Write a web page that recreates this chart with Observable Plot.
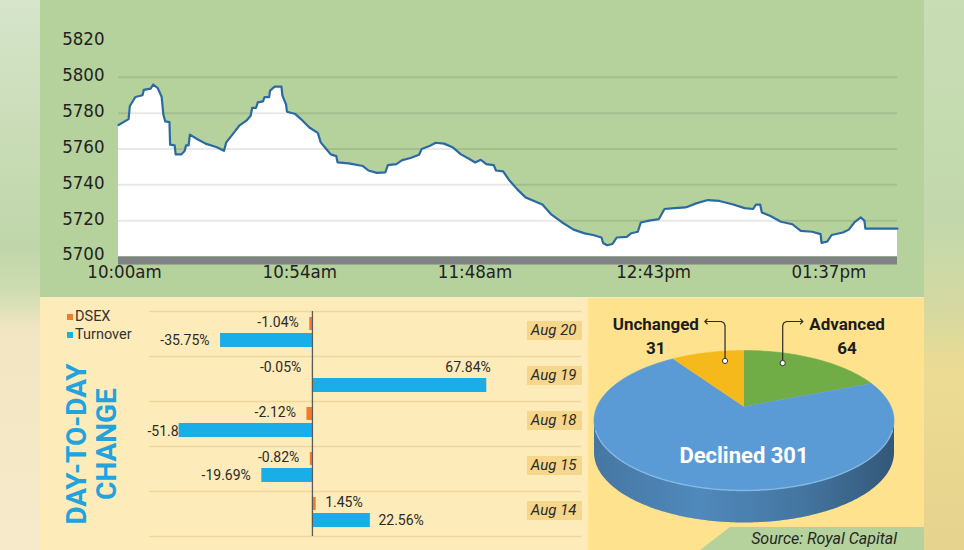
<!DOCTYPE html>
<html><head><meta charset="utf-8">
<script src="https://cdn.jsdelivr.net/npm/d3@7"></script>
<script src="https://cdn.jsdelivr.net/npm/@observablehq/plot@0.6"></script>
<style>
html,body{margin:0;padding:0;width:964px;height:550px;overflow:hidden;background:#e9e3c8;}
#root{position:relative;width:964px;height:550px;font-family:Roboto,"Noto Sans",sans-serif;}
.blurL{position:absolute;left:0;top:0;width:40px;height:550px;background:linear-gradient(180deg,#d6e5cb 0%,#c9dcb6 25%,#c0d6aa 45%,#cfdcb2 53%,#f2e6c2 60%,#f7eacb 100%);}
.blurR{position:absolute;left:924px;top:0;width:40px;height:550px;background:linear-gradient(180deg,#c8ddb4 0%,#c2d8ac 40%,#d4d9a2 55%,#ecdb92 68%,#e6d38e 100%);}
#top{position:absolute;left:40px;top:0;width:884px;height:297px;background:#b5d19c;}
#bars{position:absolute;left:40px;top:297px;width:548px;height:253px;background:#fdebb9;border-top:1px solid #eef0c4;box-sizing:border-box;}
#pie{position:absolute;left:588px;top:297px;width:336px;height:253px;background:#fee28e;border-top:1px solid #eef0c4;box-sizing:border-box;}
#bars svg,#pie svg,#top svg{position:absolute;left:0;top:0;}
.leg{position:absolute;left:27px;font-size:14.5px;color:#333;line-height:16px;}
.leg i{display:inline-block;width:6px;height:6px;margin-right:2px;vertical-align:1px;}
#title{position:absolute;left:51px;top:146px;width:180px;transform:translate(-50%,-50%) rotate(-90deg);text-align:center;font-weight:700;font-size:28px;line-height:29.5px;color:#20a3de;white-space:nowrap;}
#source{position:absolute;left:700px;top:527px;width:224px;height:23px;background:#b5d19c;clip-path:polygon(30px 0,100% 0,100% 100%,0 100%);font-style:italic;font-size:16px;color:#262626;text-align:right;box-sizing:border-box;padding-right:27px;line-height:24px;}
</style></head>
<body><div id="root">
<div class="blurL"></div><div class="blurR"></div>
<div id="top"></div>
<div id="bars">
  <div class="leg" style="top:11px"><i style="background:#f07d2e"></i>DSEX</div>
  <div class="leg" style="top:29px"><i style="background:#19aee8"></i>Turnover</div>
  <div id="title">DAY-TO-DAY<br>CHANGE</div>
</div>
<div id="pie"></div>
<div id="source">Source: Royal Capital</div>
</div>
<script>
// ---------- DSEX intraday (minutes after 10:00am) ----------
const minutes = [0,3.1,3.5,5.2,7.4,7.8,9.9,10.7,12.1,13.3,13.8,14.4,15.7,15.9,17.3,17.6,19.4,20.4,20.8,21.6,22,24.2,26.8,30.3,32.5,33.2,35.5,37.2,39.4,40.7,41.2,42.4,42.9,44.5,45,46.4,46.7,48.1,50.2,50.5,51.6,51.9,54.5,56.2,58.8,61.4,62.3,64,65.4,67.1,67.5,70.9,75.3,77,79.6,82.2,83,85.6,87.4,90,92.6,93.4,96,97.7,100.3,102.9,105.5,108.1,109.9,111.6,113.3,115.6,116.3,118.5,120.2,122.8,125.4,128,130.6,133.2,136.7,140.2,143.6,146.2,148.8,149.3,150.5,152.2,153.5,156.6,158,160,160.9,163.5,166.5,168.2,171.3,174.7,178.2,181.6,185.1,189.4,192.9,195.5,196.4,197.7,198.2,200.7,204.1,207.6,210.2,213.7,216.3,216.6,218.4,219.7,223.2,225,226.7,228.7,229.8,230.1,240];
const dsexIndex = [5773.4,5776.7,5784,5789,5790,5793,5793.7,5796,5794,5789,5779.5,5775.4,5775,5762.4,5762,5757,5757,5759,5762,5762,5768,5765.6,5763,5761,5759,5763.7,5769,5773,5775.8,5778.6,5783,5783,5786,5786.6,5789,5789,5792.6,5794.8,5794.8,5789.8,5785,5780.8,5779.5,5776.7,5772,5769,5763.7,5760,5757,5756,5752.5,5752,5750.5,5748,5746.7,5747,5751,5751.6,5753.8,5755,5756.8,5760,5761.8,5763.5,5763,5761,5757,5754.4,5752.5,5754,5751.6,5751,5748,5747.5,5743,5737.6,5733,5731,5729,5723.7,5719,5715,5712.9,5712,5710.6,5707.5,5706.3,5707,5710.6,5711,5713,5713.8,5719,5720,5720.9,5726.5,5727,5727.4,5729.8,5731.5,5731,5729,5727,5726.5,5729,5729,5724.6,5722.7,5719.4,5718,5714.3,5713.8,5712.5,5707.6,5708.4,5712,5713.4,5715,5719,5721.8,5720,5715.6,5715.6];
const yTicks = [5700,5720,5740,5760,5780,5800,5820];
const xTickMinutes = [0,54,108,163,217];
const xTickLabels = ["10:00am","10:54am","11:48am","12:43pm","01:37pm"];
const sessionLength = 240;

// ---------- Day-to-day change ----------
const dates = ["Aug 20","Aug 19","Aug 18","Aug 15","Aug 14"];
const dsexChange = [-1.04,-0.05,-2.12,-0.82,1.45];
const turnoverChange = [-35.75,67.84,-51.86,-19.69,22.56];

// ---------- Advance / decline ----------
const pieLabels = ["Advanced","Declined","Unchanged"];
const pieValues = [64,301,31];
const pieColors = ["#70ad47","#5b9bd5","#f5b91b"];

const narrow = '"Liberation Sans Narrow","DejaVu Sans Condensed","Roboto Condensed",Roboto,sans-serif';

// ===== Line chart =====
const series = minutes.map((m,i)=>({m, v: dsexIndex[i]}));
const yMin = yTicks[0], yMax = yTicks[yTicks.length-1];
const linePlot = Plot.plot({
  width: 884, height: 297, marginLeft: 78, marginRight: 27, marginTop: 41, marginBottom: 41,
  x: {domain: [0, sessionLength], axis: null},
  y: {domain: [yMin, yMax], axis: null},
  style: {background: "transparent", fontFamily: narrow, fontSize: "18.5px", color: "#222", overflow: "visible"},
  marks: [
    Plot.areaY(series, {x: "m", y1: () => yMin, y2: "v", fill: "white"}),
    Plot.ruleY(yTicks.filter(v => v > yMin && v < yMax), {stroke: "#000", strokeOpacity: 0.09, strokeWidth: 2}),
    Plot.line(series, {x: "m", y: "v", stroke: "#2b6aa0", strokeWidth: 2.2}),
    Plot.ruleY([yMin], {stroke: "#808285", strokeWidth: 8, dy: 4}),
    Plot.text(yTicks, {y: d => d, frameAnchor: "left", textAnchor: "end", dx: -14, dy: -2, text: d => String(d), fill: "#222"}),
    Plot.text(xTickMinutes, {x: d => d, frameAnchor: "bottom", dy: 21, dx: 6, text: (d, i) => xTickLabels[i], fill: "#222"})
  ]
});
document.getElementById("top").appendChild(linePlot);

// ===== Bars =====
const rows = dates.map((d,i)=>({date: d, dsex: dsexChange[i], turnover: turnoverChange[i]}));
const fmt = v => v.toFixed(2) + "%";
const bandH = 45;
const barPlot = Plot.plot({
  width: 548, height: 253, marginLeft: 109, marginRight: 7, marginTop: 13, marginBottom: 15,
  x: {domain: [-63.4, 104.7], axis: null},
  y: {domain: dates, axis: null, padding: 0},
  style: {background: "transparent", fontFamily: "Roboto,sans-serif", fontSize: "14px", color: "#2a2a2a", overflow: "visible"},
  marks: [
    Plot.ruleY(dates, {y: d => d, dy: -bandH/2, stroke: "#efd69c", strokeWidth: 1.5}),
    Plot.ruleY(dates.slice(-1), {y: d => d, dy: bandH/2, stroke: "#efd69c", strokeWidth: 1.5}),
    Plot.ruleY(dates, {y: d => d, dy: -3.5, insetLeft: 378, insetRight: -1, stroke: "#f6d68a", strokeWidth: 19}),
    Plot.text(dates, {y: d => d, frameAnchor: "right", textAnchor: "end", dx: -5, dy: -3.5, text: d => d, fontStyle: "italic", fontSize: 15, fill: "#2a2a2a"}),
    Plot.text(rows.filter(r => r.turnover < -50), {y: "date", frameAnchor: "left", textAnchor: "start", dx: -2, dy: 8, text: r => fmt(r.turnover), fill: "#2a2a2a"}),
    Plot.barX(rows, {x: "dsex", y: "date", fill: "#f07d2e", insetTop: 6, insetBottom: 26}),
    Plot.barX(rows, {x: "turnover", y: "date", fill: "#19aee8", insetTop: 22, insetBottom: 9}),
    Plot.ruleX([0], {stroke: "#5a5a5a", strokeWidth: 1.3}),
    Plot.text(rows.filter(r => r.dsex < 0), {x: "dsex", y: "date", textAnchor: "end", dx: -11, dy: -11.5, text: r => fmt(r.dsex), fill: "#2a2a2a"}),
    Plot.text(rows.filter(r => r.dsex >= 0), {x: "dsex", y: "date", textAnchor: "start", dx: 9, dy: -11.5, text: r => fmt(r.dsex), fill: "#2a2a2a"}),
    Plot.text(rows.filter(r => r.turnover < 0 && r.turnover >= -50), {x: "turnover", y: "date", textAnchor: "end", dx: -11, dy: 7, text: r => fmt(r.turnover), fill: "#2a2a2a"}),
    Plot.text(rows.filter(r => r.turnover >= 0 && r.turnover < 50), {x: "turnover", y: "date", textAnchor: "start", dx: 8, dy: 7, text: r => fmt(r.turnover), fill: "#2a2a2a"}),
    Plot.text(rows.filter(r => r.turnover >= 50), {x: "turnover", y: "date", textAnchor: "end", dx: 4, dy: -11.5, text: r => fmt(r.turnover), fill: "#2a2a2a"})
  ]
});
document.getElementById("bars").insertBefore(barPlot, document.getElementById("bars").firstChild);

// ===== 3D pie =====
const G = {w: 336, h: 253, cx: 155.5, cy: 122, rx: 150, ry: 70, depth: 32, apexDy: -14, labelY: 23};
const arcs = d3.pie().sort(null).value(d => d)(pieValues);
const pt = (a, r = 1, dz = 0) => ({x: G.cx + G.rx * r * Math.sin(a), y: G.cy - G.ry * r * Math.cos(a) + dz});
function arcPts(a0, a1, dz = 0) {
  const n = Math.max(2, Math.ceil((a1 - a0) / (Math.PI / 180)));
  return d3.range(n + 1).map(i => pt(a0 + (a1 - a0) * i / n, 1, dz));
}
const pieMarks = [];
arcs.forEach((a, i) => {
  const s0 = Math.max(a.startAngle, Math.PI / 2), s1 = Math.min(a.endAngle, 3 * Math.PI / 2);
  if (s1 > s0) {
    const poly = [...arcPts(s0, s1), ...arcPts(s0, s1, G.depth).reverse()];
    pieMarks.push(Plot.line(poly, {x: "x", y: "y", fill: `url(#side${i})`, stroke: "none"}));
  }
});
arcs.forEach((a, i) => {
  const poly = [{x: G.cx, y: G.cy + G.apexDy}, ...arcPts(a.startAngle, a.endAngle)];
  pieMarks.push(Plot.line(poly, {x: "x", y: "y", fill: pieColors[i], stroke: pieColors[i], strokeWidth: 0.6}));
});
pieMarks.push(Plot.line(arcPts(Math.PI / 2 + 0.15, 3 * Math.PI / 2 - 0.15), {x: "x", y: "y", stroke: "#8dbfe9", strokeWidth: 1.4, strokeOpacity: 0.8}));
const maxIdx = pieValues.indexOf(d3.max(pieValues));
const callouts = arcs.map((a, i) => {
  const mid = (a.startAngle + a.endAngle) / 2, dir = Math.sin(mid) > 0 ? 1 : -1;
  const span = a.endAngle - a.startAngle;
  const aDot = dir > 0 ? a.startAngle + 0.3 * span : a.endAngle - 0.3 * span;
  const p = pt(aDot, 0.86);
  const ly = G.labelY;
  return {i, dir, label: pieLabels[i], value: pieValues[i], dot: p,
    path: [p, {x: p.x, y: ly + 4}, {x: p.x + dir * 1.2, y: ly + 1.2}, {x: p.x + dir * 4, y: ly}, {x: p.x + dir * 19, y: ly}],
    tipX: p.x + dir * 19};
}).filter(c => c.i !== maxIdx);
callouts.forEach(c => pieMarks.push(Plot.line(c.path, {x: "x", y: "y", stroke: "#2a2a2a", strokeWidth: 1.2, markerEnd: "arrow"})));
pieMarks.push(Plot.dot(callouts, {x: c => c.dot.x, y: c => c.dot.y, r: 2.6, fill: "white", stroke: "#333", strokeWidth: 1}));
pieMarks.push(Plot.text(callouts, {x: c => c.tipX + c.dir * (7 + c.label.length * 4.8), y: G.labelY, text: c => `${c.label}\n${c.value}`,
  textAnchor: "middle", lineAnchor: "middle", lineHeight: 1.45, dy: 12.5, fontWeight: "bold", fontSize: 17, fill: "#1c1c1c"}));
pieMarks.push(Plot.text([maxIdx], {x: G.cx, y: G.cy + G.ry * 0.5, text: i => `${pieLabels[i]} ${pieValues[i]}`,
  fill: "white", fontWeight: "bold", fontSize: 22}));

const piePlot = Plot.plot({
  width: G.w, height: G.h, margin: 0,
  x: {domain: [0, G.w], range: [0, G.w], axis: null},
  y: {domain: [0, G.h], range: [0, G.h], axis: null},
  style: {background: "transparent", fontFamily: "Roboto,sans-serif", overflow: "visible"},
  marks: pieMarks
});
const defs = d3.select(piePlot).insert("defs", ":first-child");
arcs.forEach((a, i) => {
  const base = d3.color(pieColors[i]);
  const g = defs.append("linearGradient").attr("id", `side${i}`).attr("x1", 0).attr("x2", 1).attr("y1", 0).attr("y2", 0);
  [[0, base.darker(0.75)], [0.35, base.darker(0.35)], [0.7, base.darker(0.8)], [1, base.darker(1.6)]].forEach(([o, c]) =>
    g.append("stop").attr("offset", o).attr("stop-color", c.formatHex()));
});
document.getElementById("pie").appendChild(piePlot);
</script>
</body></html>
